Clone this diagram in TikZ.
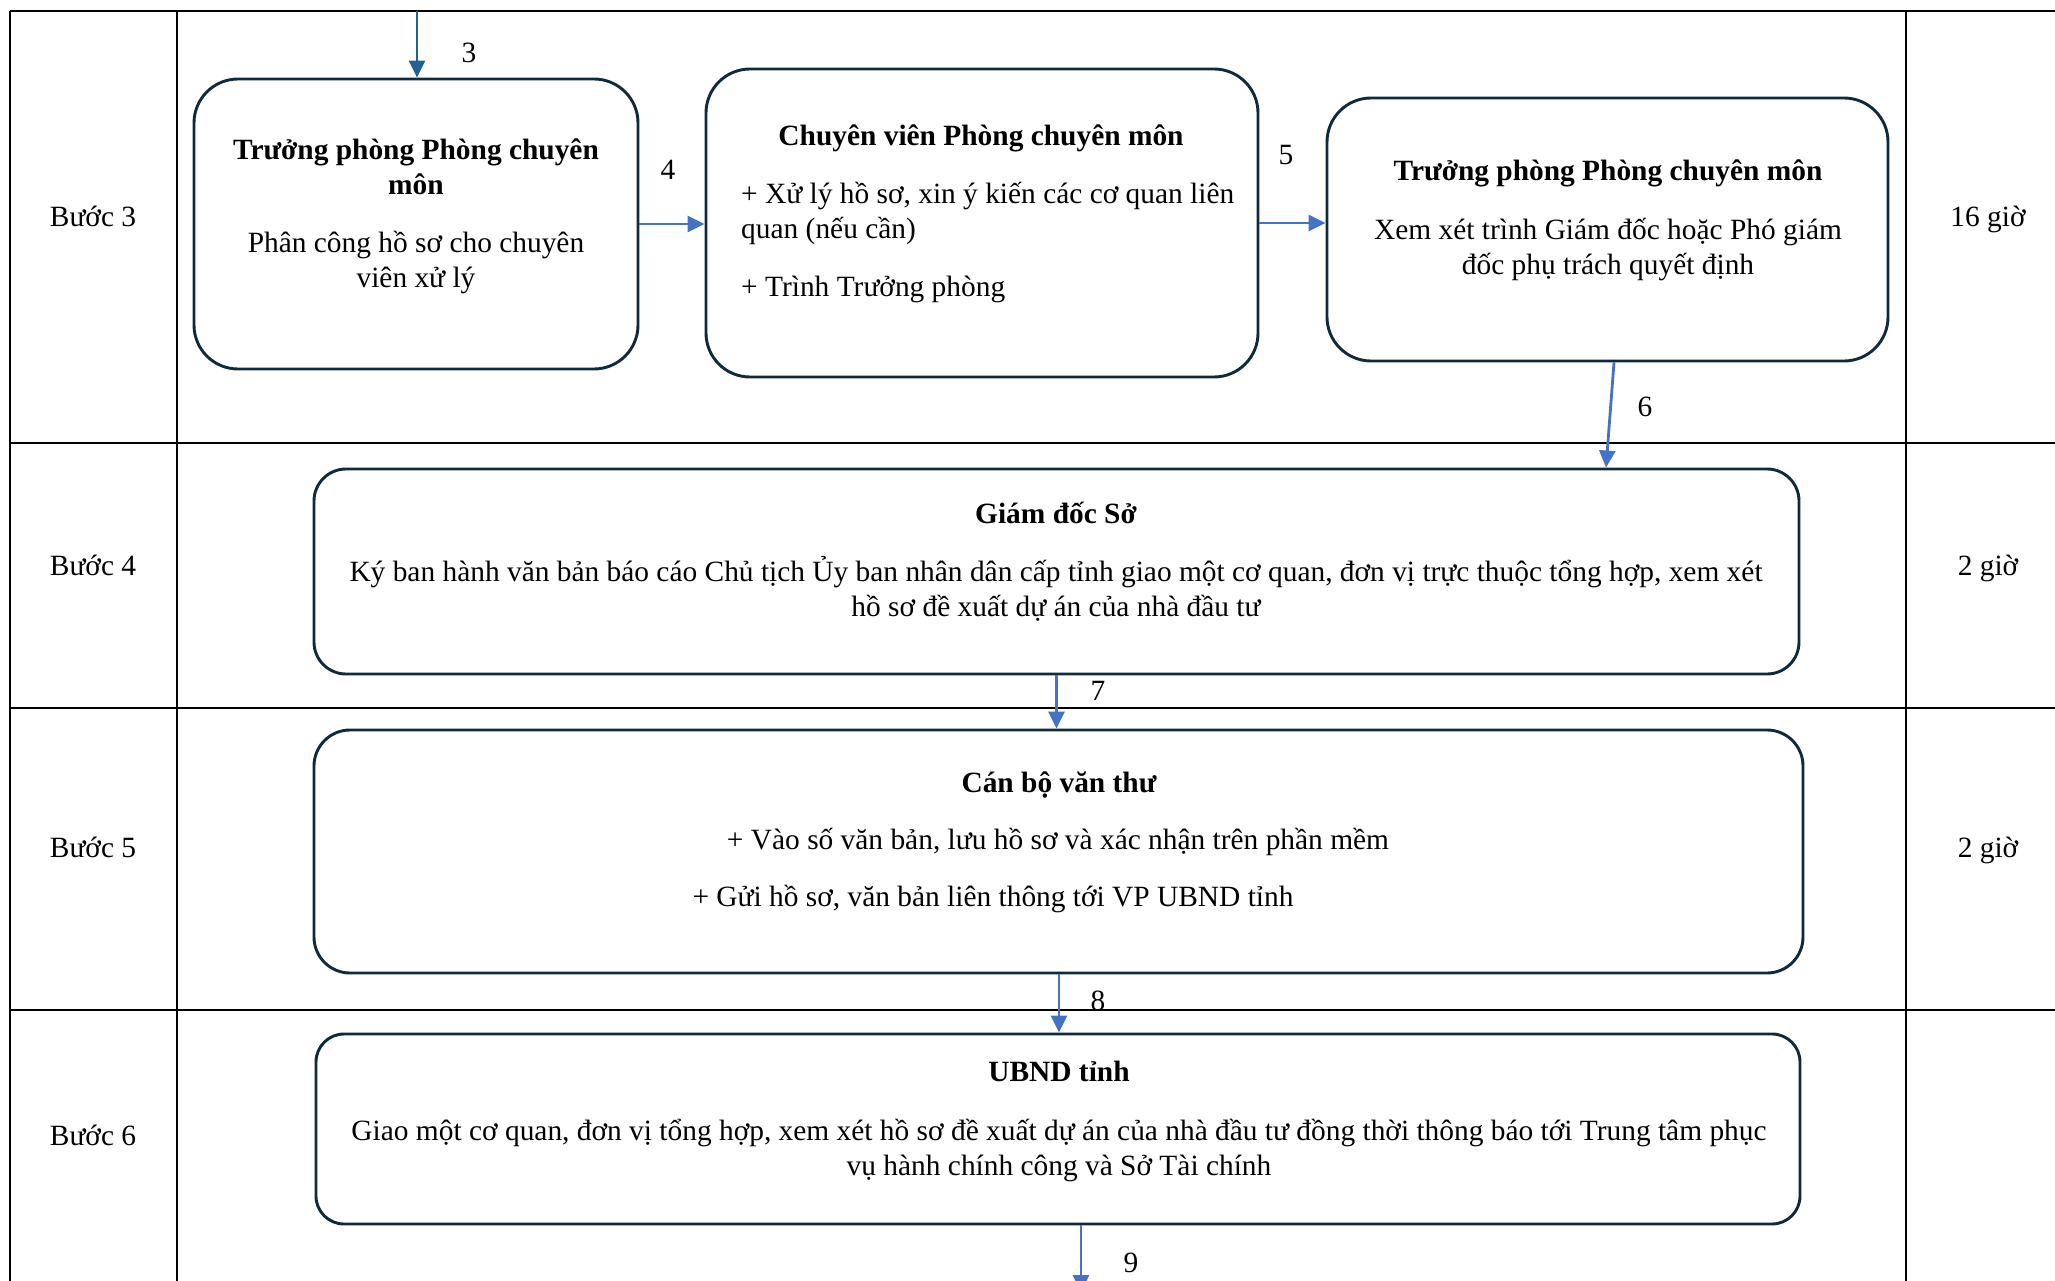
\documentclass[tikz,border=0pt]{standalone}
\usepackage{fontspec}
\setmainfont{Liberation Serif}
\usetikzlibrary{arrows.meta}
\definecolor{boxc}{HTML}{0E2A3B}
\definecolor{arrc}{HTML}{4472C4}
\definecolor{arrt}{HTML}{1F6391}
\newcommand\mystrut{\rule{0pt}{40pt}}
\tikzset{
  tbl/.style={line width=2.9pt, black},
  flowbox/.style={draw=boxc, line width=2.9pt, inner sep=0pt},
  txt/.style={font=\fontsize{29.4}{35.5}\selectfont, inner sep=0pt, text=black},
  ttl/.style={font=\bfseries\fontsize{29.4}{35.5}\selectfont, inner sep=0pt, text=black},
  arr/.style={draw=arrc, line width=2.8pt, -{Triangle[length=17pt,width=16pt]}},
  arrdark/.style={draw=arrt, line width=2.8pt, -{Triangle[length=17pt,width=16pt]}},
}
\begin{document}
\begin{tikzpicture}[x=1pt,y=-1pt]
\useasboundingbox (0,0) rectangle (2055,1281);
\clip (0,0) rectangle (2055,1281);
\fill[white] (0,0) rectangle (2055,1281);

% table grid
\draw[tbl] (10,11) -- (2060,11);
\draw[tbl] (10,443) -- (2060,443);
\draw[tbl] (10,708) -- (2060,708);
\draw[tbl] (10,1010) -- (2060,1010);
\draw[tbl] (10,11) -- (10,1290);
\draw[tbl] (177,11) -- (177,1290);
\draw[tbl] (1906,11) -- (1906,1290);

% step labels
\node[txt, anchor=base] (s3) at (93,227) {Bước 3};
\node[txt, anchor=base] (s4) at (93,575) {Bước 4};
\node[txt, anchor=base] (s5) at (93,857) {Bước 5};
\node[txt, anchor=base] (s6) at (93,1145) {Bước 6};

% times
\node[txt, anchor=base] (t3) at (1988,227) {16 giờ};
\node[txt, anchor=base] (t4) at (1988,575) {2 giờ};
\node[txt, anchor=base] (t5) at (1988,857) {2 giờ};

% boxes
\node[flowbox, rounded corners=44pt, minimum width=444pt, minimum height=290pt] (b1) at (416,224) {};
\node[flowbox, rounded corners=44pt, minimum width=552pt, minimum height=308pt] (b2) at (982,223) {};
\node[flowbox, rounded corners=44pt, minimum width=561pt, minimum height=263pt] (b3) at (1607.5,229.5) {};
\node[flowbox, rounded corners=32pt, minimum width=1485pt, minimum height=205pt] (b4) at (1056.5,571.5) {};
\node[flowbox, rounded corners=36pt, minimum width=1489pt, minimum height=243pt] (b5) at (1058.5,851.5) {};
\node[flowbox, rounded corners=28pt, minimum width=1484pt, minimum height=190pt] (b6) at (1058,1129) {};

% box 1 text
\node[ttl, anchor=north, align=center] (b1t) at (416,119) {\mystrut Trưởng phòng Phòng chuyên\\môn};
\node[txt, anchor=north, align=center] (b1b) at (416,212) {\mystrut Phân công hồ sơ cho chuyên\\viên xử lý};

% box 2 text
\node[ttl, anchor=base] (b2t) at (981,146) {Chuyên viên Phòng chuyên môn};
\node[txt, anchor=north west, align=left] (b2b) at (741,163) {\mystrut + Xử lý hồ sơ, xin ý kiến các cơ quan liên\\quan (nếu cần)\\[22pt]+ Trình Trưởng phòng};

% box 3 text
\node[ttl, anchor=base] (b3t) at (1608,181) {Trưởng phòng Phòng chuyên môn};
\node[txt, anchor=north, align=center] (b3b) at (1608,199) {\mystrut Xem xét trình Giám đốc hoặc Phó giám\\đốc phụ trách quyết định};

% box 4 text
\node[ttl, anchor=base] (b4t) at (1056,523) {Giám đốc Sở};
\node[txt, anchor=north, align=center] (b4b) at (1056,541) {\mystrut Ký ban hành văn bản báo cáo Chủ tịch Ủy ban nhân dân cấp tỉnh giao một cơ quan, đơn vị trực thuộc tổng hợp, xem xét\\hồ sơ đề xuất dự án của nhà đầu tư};

% box 5 text
\node[ttl, anchor=base] (b5t) at (1059,792) {Cán bộ văn thư};
\node[txt, anchor=base] (b5l1) at (1058,849) {+ Vào số văn bản, lưu hồ sơ và xác nhận trên phần mềm};
\node[txt, anchor=base] (b5l2) at (993,906) {+ Gửi hồ sơ, văn bản liên thông tới VP UBND tỉnh};

% box 6 text
\node[ttl, anchor=base] (b6t) at (1059,1081) {UBND tỉnh};
\node[txt, anchor=north, align=center] (b6b) at (1059,1100) {\mystrut Giao một cơ quan, đơn vị tổng hợp, xem xét hồ sơ đề xuất dự án của nhà đầu tư đồng thời thông báo tới Trung tâm phục\\vụ hành chính công và Sở Tài chính};

% connectors
\coordinate (in3) at (417,11);
\coordinate (out9) at (1081,1292);
\draw[arrdark] (in3) -- (in3 |- b1.north);
\draw[arr] (b1.east) -- (b1.east -| b2.west);
\draw[arr] (b2.east) -- (b2.east -| b3.west);
\draw[arr] ([xshift=6.5pt]b3.south) -- ([xshift=549.5pt]b4.north);
\draw[arr] (b4.south) -- (b4.south |- b5.north);
\draw[arr] ([xshift=0.5pt]b5.south) -- ([xshift=0.5pt]b5.south |- b6.north);
\draw[arr] ([xshift=23pt]b6.south) -- (out9);

% connector labels
\node[txt, anchor=base] (l3) at (469,63) {3};
\node[txt, anchor=base] (l4) at (668,180) {4};
\node[txt, anchor=base] (l5) at (1286,165) {5};
\node[txt, anchor=base] (l6) at (1645,416) {6};
\node[txt, anchor=base] (l7) at (1098,700) {7};
\node[txt, anchor=base] (l8) at (1098,1010) {8};
\node[txt, anchor=base] (l9) at (1131,1272) {9};
\end{tikzpicture}
\end{document}
